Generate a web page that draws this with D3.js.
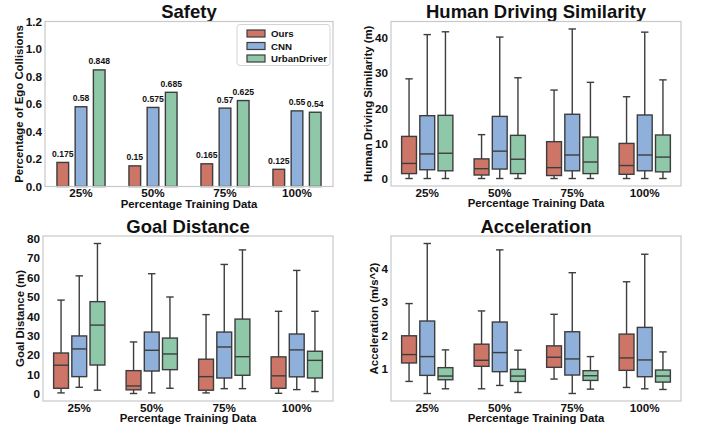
<!DOCTYPE html>
<html>
<head>
<meta charset="utf-8">
<script src="https://cdn.jsdelivr.net/npm/d3@7"></script>
<style>
body { margin: 0; background: #fff; }
svg { display: block; font-family: 'Liberation Sans', Arial, sans-serif; font-weight: bold; }
</style>
</head>
<body>
<svg id="chart" width="702" height="434"></svg>
<script>
// ── Data ──
const CATEGORIES = ['25%', '50%', '75%', '100%'];
const SERIES = ['Ours', 'CNN', 'UrbanDriver'];
const COLORS = ['#cd7667', '#8eb0da', '#8fc8a8'];

// collision rate, one value per category
const SAFETY_OURS = [0.175, 0.15, 0.165, 0.125];
const SAFETY_CNN = [0.58, 0.575, 0.57, 0.55];
const SAFETY_URBAN = [0.848, 0.685, 0.625, 0.54];
const SAFETY_TICKS = [0, 0.2, 0.4, 0.6, 0.8, 1.0, 1.2];

// box stats per category: [whisker low, q1, median, q3, whisker high]
const HDS_OURS = [[0, 1.4, 4.3, 12.0, 28.4], [0, 1.0, 2.8, 5.6, 12.5], [0, 0.85, 3.1, 10.5, 25.2], [0, 1.2, 3.7, 10.0, 23.3]];
const HDS_CNN = [[0, 2.5, 7.0, 17.9, 41.0], [0, 2.7, 7.8, 17.7, 40.3], [0, 2.2, 6.7, 18.3, 42.6], [0, 2.2, 6.7, 18.1, 41.7]];
const HDS_URBAN = [[0, 2.2, 7.2, 18.0, 41.8], [0, 1.4, 5.5, 12.3, 28.7], [0, 1.4, 4.7, 11.8, 27.4], [0, 1.9, 6.1, 12.4, 28.1]];
const HDS_TICKS = [0, 10, 20, 30, 40];

const GOAL_OURS = [[0.5, 2.9, 14.8, 21.1, 48.4], [0.2, 2.1, 4.1, 12.0, 26.8], [0.5, 1.9, 8.9, 17.9, 40.9], [0.3, 2.9, 9.3, 19.1, 42.6]];
const GOAL_CNN = [[3.4, 8.9, 23.2, 29.9, 60.9], [0.5, 11.8, 22.5, 31.9, 62.0], [2.7, 8.2, 24.2, 31.9, 66.8], [2.2, 8.8, 22.7, 30.9, 63.7]];
const GOAL_URBAN = [[1.9, 14.9, 35.5, 47.6, 77.6], [2.9, 12.5, 20.6, 28.8, 50.0], [2.7, 9.6, 19.2, 38.6, 74.3], [1.2, 8.2, 17.3, 22.0, 42.6]];
const GOAL_TICKS = [0, 10, 20, 30, 40, 50, 60, 70, 80];

const ACC_OURS = [[0.63, 1.18, 1.43, 1.99, 2.95], [0.41, 1.08, 1.26, 1.74, 2.73], [0.70, 1.05, 1.35, 1.69, 2.63], [0.45, 0.96, 1.33, 2.04, 3.60]];
const ACC_CNN = [[0.27, 0.81, 1.37, 2.43, 4.74], [0.51, 0.92, 1.49, 2.40, 4.55], [0.27, 0.82, 1.30, 2.11, 3.87], [0.41, 0.77, 1.27, 2.24, 4.42]];
const ACC_URBAN = [[0.41, 0.68, 0.79, 1.04, 1.57], [0.30, 0.63, 0.79, 0.99, 1.56], [0.40, 0.66, 0.80, 0.95, 1.37], [0.39, 0.61, 0.79, 0.97, 1.51]];
const ACC_TICKS = [1, 2, 3, 4];

const EDGE = '#3d3d3d';
const FRAME = '#c8c8c8';

const svg = d3.select('#chart');

// strip d3's axis font defaults so the svg font is inherited
function styleAxis(ax) {
    ax.attr('font-family', null).attr('font-size', null);
    ax.select('.domain').remove();
    ax.selectAll('text')
        .attr('font-size', '11.7px')
        .attr('fill', '#111');
}

// ── Shared panel scaffolding ──
function makePanel(box, title, ylabel, yDomain, yTicks, tickFmt) {
    const g = svg.append('g');
    const x = d3.scaleBand().domain(CATEGORIES).range([box.x0, box.x1]);
    const y = d3.scaleLinear().domain(yDomain).range([box.y1, box.y0]);

    const yAx = g.append('g')
        .attr('transform', `translate(${box.x0},0)`)
        .call(d3.axisLeft(y).tickValues(yTicks).tickSize(0).tickPadding(3).tickFormat(tickFmt));
    styleAxis(yAx);

    const xAx = g.append('g')
        .attr('transform', `translate(0,${box.y1})`)
        .call(d3.axisBottom(x).tickSize(0).tickPadding(2.2));
    styleAxis(xAx);

    const cx = (box.x0 + box.x1) / 2;
    g.append('text')
        .attr('x', cx).attr('y', box.y0 - 3.5)
        .attr('text-anchor', 'middle')
        .attr('font-size', '18.5px')
        .attr('fill', '#111')
        .text(title);

    g.append('text')
        .attr('x', cx).attr('y', box.y1 + 21)
        .attr('text-anchor', 'middle')
        .attr('font-size', '11.4px')
        .attr('fill', '#111')
        .text('Percentage Training Data');

    // y label sits just left of the widest tick label
    let minX = box.x0;
    yAx.selectAll('text').each(function () {
        const b = this.getBBox();
        minX = Math.min(minX, b.x + box.x0);
    });
    const ly = (box.y0 + box.y1) / 2;
    g.append('text')
        .attr('transform', `translate(${minX - 3},${ly}) rotate(-90)`)
        .attr('text-anchor', 'middle')
        .attr('font-size', '11.4px')
        .attr('fill', '#111')
        .text(ylabel);

    const marks = g.append('g');

    g.append('rect')
        .attr('x', box.x0).attr('y', box.y0)
        .attr('width', box.x1 - box.x0).attr('height', box.y1 - box.y0)
        .attr('fill', 'none')
        .attr('stroke', FRAME)
        .attr('stroke-width', 1.2);

    return { g, marks, x, y };
}

// matplotlib-like 5% margin around whisker extent
function paddedDomain(seriesList) {
    const all = seriesList.flat(2);
    const lo = d3.min(all), hi = d3.max(all);
    const m = (hi - lo) * 0.05;
    return [lo - m, hi + m];
}

// ── Safety (grouped bars) ──
function renderSafety() {
    const box = { x0: 45, x1: 333, y0: 21.5, y1: 186.5 };
    const p = makePanel(box, 'Safety', 'Percentage of Ego Collisions', [0, 1.2], SAFETY_TICKS, d3.format('.1f'));
    const data = [SAFETY_OURS, SAFETY_CNN, SAFETY_URBAN];
    const bw = p.x.bandwidth();
    const barW = bw * 0.162;

    data.forEach((vals, si) => {
        vals.forEach((v, ci) => {
            const cx = p.x(CATEGORIES[ci]) + bw / 2 + (si - 1) * bw * 0.253;
            p.marks.append('rect')
                .attr('x', cx - barW / 2)
                .attr('y', p.y(v))
                .attr('width', barW)
                .attr('height', p.y(0) - p.y(v))
                .attr('fill', COLORS[si])
                .attr('stroke', EDGE)
                .attr('stroke-width', 1.4);
            p.marks.append('text')
                .attr('x', cx)
                .attr('y', p.y(v) - 5.5)
                .attr('text-anchor', 'middle')
                .attr('font-size', '8.6px')
                .attr('fill', '#111')
                .text(String(v));
        });
    });

    // Legend
    const lg = p.g.append('g');
    lg.append('rect')
        .attr('x', 237).attr('y', 24.5)
        .attr('width', 93).attr('height', 41)
        .attr('rx', 3)
        .attr('fill', '#fff')
        .attr('stroke', '#d4d4d4');
    SERIES.forEach((name, i) => {
        const cy = 33.5 + i * 12.5;
        lg.append('rect')
            .attr('x', 247).attr('y', cy - 3.5)
            .attr('width', 18).attr('height', 7)
            .attr('fill', COLORS[i])
            .attr('stroke', EDGE)
            .attr('stroke-width', 1.2);
        lg.append('text')
            .attr('x', 271).attr('y', cy + 3.5)
            .attr('font-size', '9.7px')
            .attr('fill', '#111')
            .text(name);
    });
}

// ── Box plot panels ──
function renderBoxes(box, title, ylabel, data, yTicks) {
    const p = makePanel(box, title, ylabel, paddedDomain(data), yTicks, d3.format('d'));
    const bw = p.x.bandwidth();
    const boxW = bw * 0.205;

    data.forEach((stats, si) => {
        stats.forEach(([lo, q1, med, q3, hi], ci) => {
            const cx = p.x(CATEGORIES[ci]) + bw / 2 + (si - 1) * bw * 0.251;
            const bg = p.marks.append('g')
                .attr('stroke', EDGE)
                .attr('stroke-width', 1.4)
                .attr('fill', 'none');
            // whiskers
            bg.append('line').attr('x1', cx).attr('x2', cx).attr('y1', p.y(q3)).attr('y2', p.y(hi));
            bg.append('line').attr('x1', cx).attr('x2', cx).attr('y1', p.y(q1)).attr('y2', p.y(lo));
            // caps
            [lo, hi].forEach(v => {
                bg.append('line')
                    .attr('x1', cx - boxW / 4).attr('x2', cx + boxW / 4)
                    .attr('y1', p.y(v)).attr('y2', p.y(v));
            });
            // box
            bg.append('rect')
                .attr('x', cx - boxW / 2)
                .attr('y', p.y(q3))
                .attr('width', boxW)
                .attr('height', p.y(q1) - p.y(q3))
                .attr('fill', COLORS[si]);
            // median
            bg.append('line')
                .attr('x1', cx - boxW / 2).attr('x2', cx + boxW / 2)
                .attr('y1', p.y(med)).attr('y2', p.y(med));
        });
    });
}

renderSafety();
renderBoxes({ x0: 391, x1: 681, y0: 21.5, y1: 186 }, 'Human Driving Similarity', 'Human Driving Similarity (m)',
    [HDS_OURS, HDS_CNN, HDS_URBAN], HDS_TICKS);
renderBoxes({ x0: 43, x1: 333, y0: 236, y1: 401 }, 'Goal Distance', 'Goal Distance (m)',
    [GOAL_OURS, GOAL_CNN, GOAL_URBAN], GOAL_TICKS);
renderBoxes({ x0: 391, x1: 681, y0: 236, y1: 401 }, 'Acceleration', 'Acceleration (m/s^2)',
    [ACC_OURS, ACC_CNN, ACC_URBAN], ACC_TICKS);
</script>
</body>
</html>
